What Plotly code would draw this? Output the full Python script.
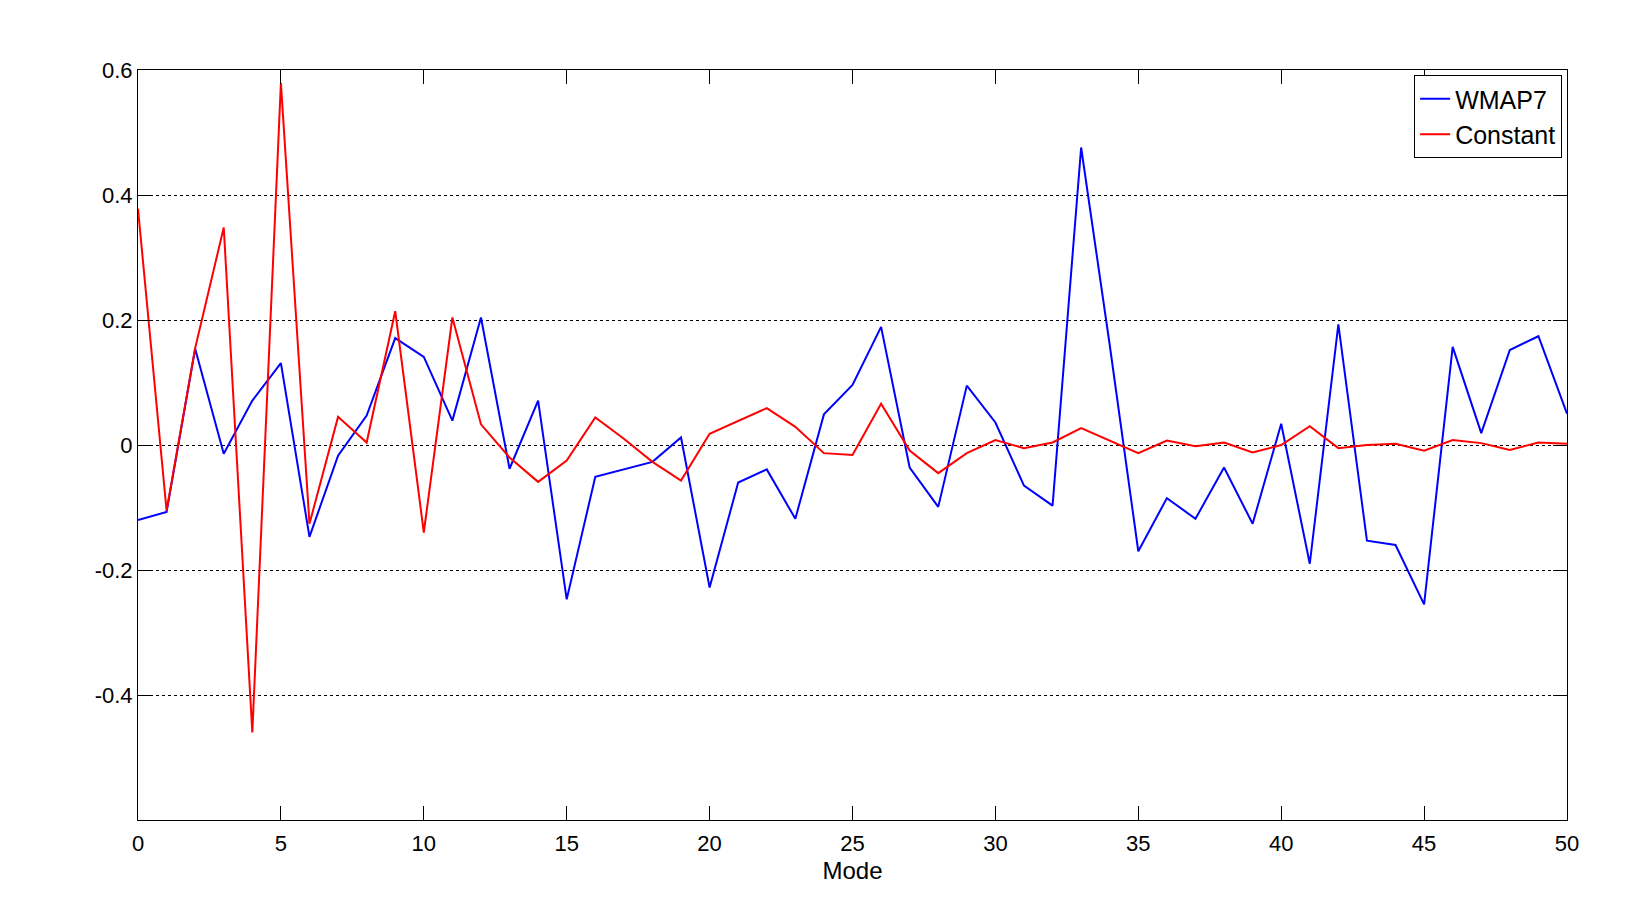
import plotly.graph_objects as go

modes = list(range(51))

wmap7 = [-0.120, -0.107, 0.154, -0.014, 0.071, 0.131, -0.147, -0.017, 0.047, 0.171,
         0.141, 0.039, 0.204, -0.038, 0.071, -0.247, -0.051, -0.039, -0.027, 0.012,
         -0.228, -0.060, -0.039, -0.118, 0.049, 0.096, 0.189, -0.036, -0.099, 0.095,
         0.036, -0.065, -0.097, 0.476, 0.160, -0.170, -0.085, -0.118, -0.036, -0.126,
         0.034, -0.190, 0.193, -0.153, -0.160, -0.255, 0.157, 0.019, 0.152, 0.174,
         0.050]

constant = [0.378, -0.105, 0.155, 0.348, -0.460, 0.579, -0.126, 0.045, 0.004, 0.214,
            -0.140, 0.204, 0.033, -0.020, -0.059, -0.025, 0.044, 0.010, -0.027, -0.057,
            0.018, 0.039, 0.059, 0.029, -0.013, -0.016, 0.066, -0.009, -0.045, -0.013,
            0.008, -0.005, 0.004, 0.027, 0.007, -0.013, 0.007, -0.002, 0.004, -0.012,
            0.000, 0.030, -0.005, 0.000, 0.002, -0.009, 0.008, 0.003, -0.008, 0.004,
            0.002]

y_ticks = [-0.4, -0.2, 0, 0.2, 0.4, 0.6]
y_tick_text = ["-0.4", "-0.2", "0", "0.2", "0.4", "0.6"]
x_ticks = list(range(0, 51, 5))

fig = go.Figure()
fig.add_trace(go.Scatter(x=modes, y=wmap7, mode="lines", name="WMAP7",
                         line=dict(color="#0000FF", width=2)))
fig.add_trace(go.Scatter(x=modes, y=constant, mode="lines", name="Constant",
                         line=dict(color="#FF0000", width=2)))

font_family = "Liberation Sans, Arial, Helvetica, sans-serif"

fig.update_layout(
    width=1639, height=913,
    margin=dict(l=130, r=80, t=62, b=101),
    paper_bgcolor="white", plot_bgcolor="white",
    font=dict(family=font_family, size=22, color="black"),
    showlegend=True,
    legend=dict(x=0.9966, y=0.9933, xanchor="right", yanchor="top",
                bgcolor="white", bordercolor="black", borderwidth=1,
                font=dict(size=25, family=font_family), tracegroupgap=0,
                itemwidth=30),
    xaxis=dict(range=[0, 50], tickvals=x_ticks, ticks="inside", ticklen=14,
               tickcolor="black", showline=True, linecolor="black", linewidth=1,
               mirror="ticks", showgrid=False, zeroline=False,
               ticklabelstandoff=4,
               title=dict(text="Mode", standoff=6, font=dict(size=24)),
               tickfont=dict(size=22)),
    yaxis=dict(range=[-0.6, 0.6], tickvals=y_ticks, ticktext=y_tick_text,
               ticks="inside", ticklen=14, tickcolor="black", showline=True,
               linecolor="black", linewidth=1, mirror="ticks",
               showgrid=True, gridcolor="black", griddash="dot", gridwidth=1,
               zeroline=False, tickfont=dict(size=22)),
)

fig.write_html("out.html")
